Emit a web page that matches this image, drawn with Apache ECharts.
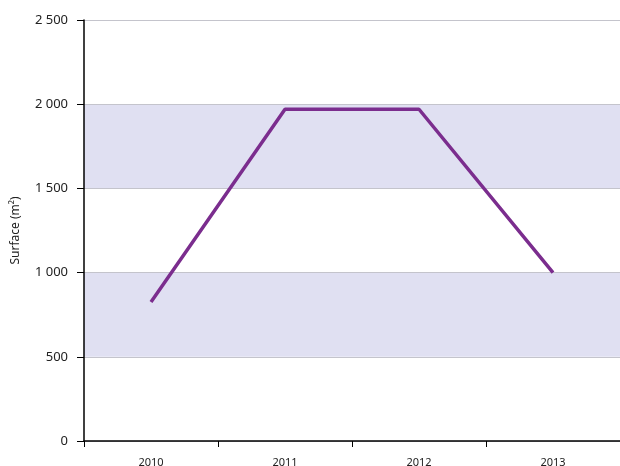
<!DOCTYPE html>
<html><head><meta charset="utf-8">
<script src="https://cdn.jsdelivr.net/npm/echarts@6/dist/echarts.min.js"></script>
<style>html,body{margin:0;padding:0;background:#fff}#c{width:620px;height:466px}</style>
</head><body><div id="c"></div>
<script>
const categories = ['2010', '2011', '2012', '2013'];
const surface = [825, 1970, 1970, 1000];
const yMin = 0, yMax = 2500, yStep = 500;

const fmt = v => String(v).replace(/\B(?=(\d{3})+(?!\d))/g, ' ');
const chart = echarts.init(document.getElementById('c'));
chart.setOption({
  animation: false,
  grid: { left: 84, right: 0, top: 20, bottom: 25, containLabel: false, outerBoundsMode: 'none' },
  xAxis: {
    type: 'category', data: categories, boundaryGap: true,
    axisLine: { lineStyle: { color: '#000', width: 1.5 } },
    axisTick: { show: true, length: 6, lineStyle: { color: '#000' } },
    axisLabel: { color: '#222', fontSize: 11, margin: 16, fontFamily: 'Noto Sans' },
    splitLine: { show: false }
  },
  yAxis: {
    type: 'value', min: yMin, max: yMax, interval: yStep,
    name: 'Surface (m²)', nameLocation: 'middle', nameGap: 62, nameRotate: 90,
    nameTextStyle: { color: '#222', fontSize: 12, fontFamily: 'Noto Sans' },
    axisLine: { show: true, lineStyle: { color: '#000', width: 1.5 } },
    axisTick: { show: true, length: 7, inside: false, lineStyle: { color: '#000' } },
    axisLabel: { color: '#222', fontSize: 13, margin: 16, fontFamily: 'Noto Sans', formatter: v => fmt(v) },
    splitLine: { show: true, lineStyle: { color: '#c4c4cc', width: 1 } },
    splitArea: { show: true, areaStyle: { color: ['#ffffff', '#e0e0f2'] } }
  },
  series: [{
    type: 'line', data: surface, showSymbol: false, symbol: 'none',
    lineStyle: { color: '#7b2d8e', width: 3.5 }
  }]
});
</script></body></html>
